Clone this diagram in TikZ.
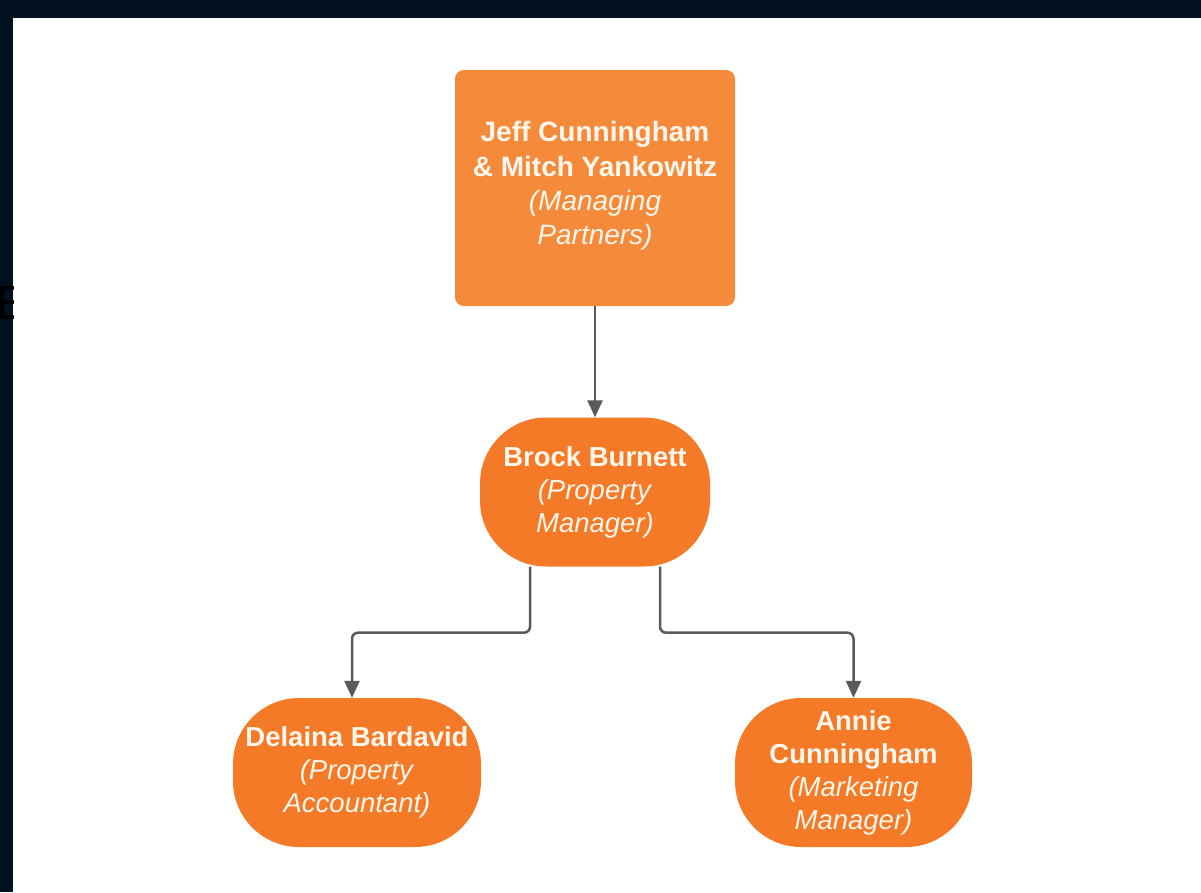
\documentclass[tikz,border=0pt]{standalone}
\usepackage{fontspec}
\setmainfont{Liberation Sans}
\usetikzlibrary{arrows.meta,calc}
\definecolor{band}{HTML}{021120}
\definecolor{topor}{HTML}{F68A3B}
\definecolor{nodeor}{HTML}{F47A28}
\definecolor{conncol}{HTML}{5A5A5A}
\definecolor{txt}{HTML}{FFF6EC}
\begin{document}
\begin{tikzpicture}[x=1pt,y=-1pt,
  toprect/.style={fill=topor, rounded corners=9pt, minimum width=280pt, minimum height=236pt, inner sep=0pt},
  toptext/.style={text=txt, align=center, font=\fontsize{28}{34.3}\selectfont, inner sep=0pt},
  roundbox/.style={fill=nodeor, rounded corners=66pt, minimum height=149pt,
    text=txt, align=center, font=\fontsize{27.5}{33}\selectfont, inner sep=0pt},
  conn/.style={draw=conncol, line width=2.5pt, rounded corners=6pt,
    -{Triangle[length=17pt,width=15pt]}}]
\useasboundingbox (0,0) rectangle (1201,892);
\fill[white] (0,0) rectangle (1201,892);
\fill[band] (0,0) rectangle (1201,18);
\fill[band] (0,0) rectangle (13,892);
\begin{scope}
  \clip (0,0) rectangle (13,892);
  \node[anchor=west, font=\fontsize{48}{48}\selectfont, text=black, inner sep=0pt] (efrag) at (-4,302.5) {E};
\end{scope}

\node[toprect] (top) at (595,188) {};
\node[toptext] (toptxt) at (595,186) {\textbf{Jeff Cunningham}\\\textbf{\& Mitch Yankowitz}\\\textit{(Managing}\\\textit{Partners)}};
\node[roundbox, minimum width=230pt] (brock) at (595,492) {\textbf{Brock Burnett}\\\textit{(Property}\\\textit{Manager)}};
\node[roundbox, minimum width=248pt] (del) at (357,772.5) {\textbf{Delaina Bardavid}\\\textit{(Property}\\\textit{Accountant)}};
\node[roundbox, minimum width=237pt] (annie) at (853.5,772.5) {\textbf{Annie}\\\textbf{Cunningham}\\\textit{(Marketing}\\\textit{Manager)}};

\draw[conn] (top.south) -- (brock.north);
\draw[conn] ([xshift=-65pt]brock.south) -- ++(0,66) -| ([xshift=-5pt]del.north);
\draw[conn] ([xshift=65pt]brock.south) -- ++(0,66) -| (annie.north);
\end{tikzpicture}
\end{document}
